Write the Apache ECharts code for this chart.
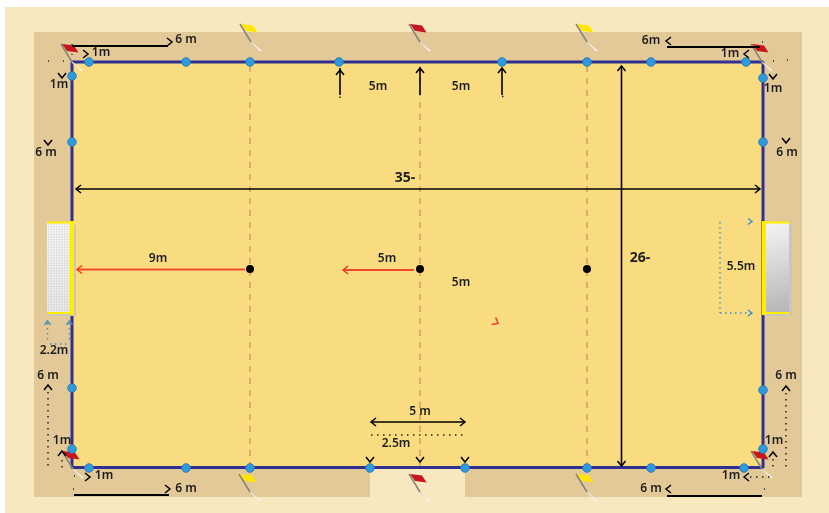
<!DOCTYPE html>
<html><head><meta charset="utf-8">
<style>html,body{margin:0;padding:0;background:#fff}#c{width:829px;height:513px}</style>
<script src="https://cdn.jsdelivr.net/npm/echarts@6/dist/echarts.min.js"></script>
</head><body><div id="c"></div>
<script>
// All values are in the diagram's own units: x, y (y grows downward).
const outerZone = [[5,7,829,513]];
const runOff = [[34,32,802,497]];
const gateGap = [[370,468,465,497]];
const pitch = [[72,62,763,467]];
const boundaryLine = [[72,62],[763,62],[763,467.5],[72,467.5],[72,62]];
const halfLines = [[250,66,250,467],[420,66,420,467],[587,66,587,467]];
const cones = [[89,62],[186,62],[250,62],[339,62],[502,62],[587,62],[651,62],[746,62],
  [72,76],[72,142],[72,388],[72,449],[763,78],[763,142],[763,390],[763,449],
  [89,468],[186,468],[250,468],[370,468],[465,468],[587,468],[651,468],[744,468]];
const spots = [[250,269],[420,269],[587,269]];
const blackLines = [[76,189,760,189],[621.5,66,621.5,466],[371,422,465,422],
  [340,68,340,95],[420,68,420,95],[502,68,502,95]];
const heavyLines = [[72,46,168,46],[74,495,169,495],[667,47,760,47],[667,496,762,496]];
const redLines = [[245,269.5,78,269.5],[414,270,344,270]];
const blackDots = [[371,435,467,435],[48,392,48,469],[62,460,62,469],[786,393,786,469],[773,459,773,470],
  [750,477,770,477],[340,96.5,340,98],[502,96.5,504,96.5],[48,61,49,61],[63,61,64,61],[72,44,72,45],[72,54,72,55],
  [762,42,763,42],[773,61,774,61],[787,60,788,60],[74,476,75,476],[73,489,74,489],[764,489,765,489]];
const blueDots = [[720,222,720,313],[720,313,752,313],[47.5,323,47.5,343],[69.5,323,69.5,343],[50,344,68,344]];
const blueHeads = [[752,221.5,0],[752,313,0],[47.5,321,270],[69.5,321,270]];
const blackHeads = [ // x, y of the tip, direction in degrees
  [76,189,180],[760,189,0],[621.5,66,270],[621.5,466,90],[371,422,180],[465,422,0],
  [340,70,270],[420,68,270],[502,68,270],
  [172,42,0],[170,489,0],[666,41,180],[666,489,180],
  [88,54,0],[90,477,0],[744,54,180],[744,477,180],
  [62,78,90],[773,79,90],[48,145,90],[786,143,90],
  [48,385,270],[786,386,270],[62,451,270],[773,452,270],
  [370,462,90],[420,462,90],[465,462,90]];
const redHeads = [[77,269.5,180],[343,270,180],[498,323.5,30]];
const goalLeft = [[47,222,73,313]];
const goalRight = [[763,222,789,313]];
const redFlags = [[61,44],[409,24],[751,44],[62,451],[409,474],[751,451]];
const yellowFlags = [[240,24],[576,24],[239,474],[576,474]];
const labelsRegular = [
  ['1m',101,53],['6 m',186,40],['6m',651,41],['1m',730,54],
  ['1m',59,85],['1m',773,89],['6 m',46,153],['6 m',787,153],
  ['5m',378,87],['5m',461,87],['9m',158,259],['5m',387,259],['5m',461,283],
  ['5.5m',741,267],['2.2m',54,351],['6 m',48,376],['6 m',786,376],
  ['1m',62,441],['1m',774,441],['5 m',420,412],['2.5m',396,444],
  ['1m',104,476],['1m',731,476],['6 m',186,489],['6 m',651,489]];
const labelsLarge = [['35-',405,178],['26-',640,258]];

const FONT = '"Noto Sans", sans-serif';
const base = {type:'custom', coordinateSystem:'cartesian2d', silent:true, animation:false, clip:false,
  encode:{x:0,y:1}};

function rects(data, fill, z, extra){
  return {...base, z, data, renderItem(p, api){
    const a = api.coord([api.value(0),api.value(1)]), b = api.coord([api.value(2),api.value(3)]);
    return {type:'rect', shape:{x:a[0],y:a[1],width:b[0]-a[0],height:b[1]-a[1]}, style:{fill,...(extra||{})}};
  }};
}
function segs(data, stroke, lineWidth, z, lineDash, cap){
  return {...base, z, data, renderItem(p, api){
    const a = api.coord([api.value(0),api.value(1)]), b = api.coord([api.value(2),api.value(3)]);
    return {type:'line', shape:{x1:a[0],y1:a[1],x2:b[0],y2:b[1]},
      style:{stroke, lineWidth, lineDash:lineDash||null, lineCap:cap||'butt', fill:null}};
  }};
}
function heads(data, stroke, lineWidth, z, len, half){
  return {...base, z, data, renderItem(p, api){
    const c = api.coord([api.value(0),api.value(1)]);
    const t = api.value(2)*Math.PI/180, cs=Math.cos(t), sn=Math.sin(t);
    const pt = (dx,dy)=>[c[0]+dx*cs-dy*sn, c[1]+dx*sn+dy*cs];
    return {type:'polyline', shape:{points:[pt(-len,-half),pt(0,0),pt(-len,half)]},
      style:{stroke, lineWidth, fill:null, lineJoin:'miter'}};
  }};
}
function flags(data, fill, z){
  return {...base, z, data, renderItem(p, api){
    const c = api.coord([api.value(0),api.value(1)]);
    const P = (x,y)=>[c[0]+x,c[1]+y];
    const s = P(11,18), e = P(21,27);
    return {type:'group', children:[
      {type:'line', shape:{x1:s[0],y1:s[1],x2:e[0],y2:e[1]},
       style:{lineWidth:1.6, stroke:{type:'linear',x:0,y:0,x2:1,y2:1,colorStops:[{offset:0,color:'#d8d2c0'},{offset:1,color:'#ffffff'}]}}},
      {type:'line', shape:{x1:c[0],y1:c[1],x2:s[0],y2:s[1]}, style:{stroke:'#85827c',lineWidth:1.5}},
      {type:'polygon', shape:{points:[P(1,0),P(13,1.5),P(17.5,8.5),P(6,7)]}, style:{fill}}
    ]};
  }};
}
function goal(data, gradient, meshColor, meshStep, postLeft){
  return {...base, z:6, data, renderItem(p, api){
    const a = api.coord([api.value(0),api.value(1)]), b = api.coord([api.value(2),api.value(3)]);
    const w=b[0]-a[0], h=b[1]-a[1], ch=[];
    ch.push({type:'rect',shape:{x:a[0]+3,y:a[1]+3,width:w,height:h},style:{fill:'#c9c6bd'}});
    ch.push({type:'rect',shape:{x:a[0],y:a[1],width:w,height:h},style:{fill:gradient}});
    if(meshStep){
      for(let x=a[0]+2;x<b[0];x+=meshStep) ch.push({type:'line',shape:{x1:x,y1:a[1],x2:x,y2:b[1]},style:{stroke:meshColor,lineWidth:.6}});
      for(let y=a[1]+2;y<b[1];y+=meshStep) ch.push({type:'line',shape:{x1:a[0],y1:y,x2:b[0],y2:y},style:{stroke:meshColor,lineWidth:.6}});
    }
    ch.push({type:'rect',shape:{x:a[0],y:a[1]-.5,width:w,height:2},style:{fill:'#ffee00'}});
    ch.push({type:'rect',shape:{x:a[0],y:b[1]-1,width:w,height:2},style:{fill:'#ffee00'}});
    ch.push({type:'rect',shape:{x:postLeft?a[0]-1:b[0]-3,y:a[1]-1,width:4,height:h+3},style:{fill:'#ffee00'}});
    return {type:'group',children:ch};
  }};
}
function texts(data, font, z){
  return {...base, z, data, encode:{x:1,y:2}, renderItem(p, api){
    const c = api.coord([api.value(1),api.value(2)]);
    return {type:'text', style:{text:data[p.dataIndex][0], x:c[0], y:c[1], font,
      fill:'#1c1c1c', textAlign:'center', textVerticalAlign:'middle'}};
  }};
}

const chart = echarts.init(document.getElementById('c'), null, {renderer:'canvas'});
chart.setOption({
  animation:false, backgroundColor:'#ffffff', tooltip:{show:false}, legend:{show:false},
  grid:{left:0,right:0,top:0,bottom:0,containLabel:false},
  xAxis:{type:'value',min:0,max:829,show:false},
  yAxis:{type:'value',min:0,max:513,inverse:true,show:false},
  series:[
    rects(outerZone,'#f7e8bf',1),
    rects(runOff,'#e3c998',2),
    rects(gateGap,'#f7e8bf',3),
    rects(pitch,'#fadc80',4),
    segs(halfLines,'#d9ad6c',2,5,[6,6]),
    goal(goalLeft,{type:'linear',x:0,y:0,x2:0,y2:1,colorStops:[{offset:0,color:'#fafafa'},{offset:1,color:'#ececec'}]},'rgba(175,175,175,0.4)',2.6,false),
    goal(goalRight,{type:'linear',x:0,y:0,x2:1,y2:1,colorStops:[{offset:0,color:'#f6f6f6'},{offset:1,color:'#b4b4b4'}]},null,0,true),
    {type:'line',coordinateSystem:'cartesian2d',data:boundaryLine,symbol:'none',silent:true,animation:false,z:5,
     lineStyle:{color:'#2f308f',width:3}},
    flags(redFlags,'#c8161f',7),
    flags(yellowFlags,'#ffe600',7),
    {type:'scatter',data:cones,symbol:'circle',symbolSize:8.5,silent:true,animation:false,z:8,
     itemStyle:{color:'#2f9bdc',borderColor:'#2b7fb5',borderWidth:1,opacity:1}},
    {type:'scatter',data:spots,symbol:'circle',symbolSize:8,silent:true,animation:false,z:8,
     itemStyle:{color:'#000000',opacity:1}},
    segs(blackLines,'#000000',1.6,9),
    segs(heavyLines,'#000000',2.2,9),
    segs(redLines,'#ee4b2b',1.8,9),
    segs(blackDots,'#222222',1.5,9,[1.5,4.5]),
    segs(blueDots,'#3f8fc4',1.4,9,[1.5,3.5]),
    heads(blackHeads,'#000000',1.5,10,5,4),
    heads(redHeads,'#ee3b2b',1.5,10,5,4),
    heads(blueHeads,'#3f8fc4',1.4,10,4,3),
    texts(labelsRegular,'600 12px '+FONT,11),
    texts(labelsLarge,'700 14px '+FONT,11)
  ]
});
</script></body></html>
